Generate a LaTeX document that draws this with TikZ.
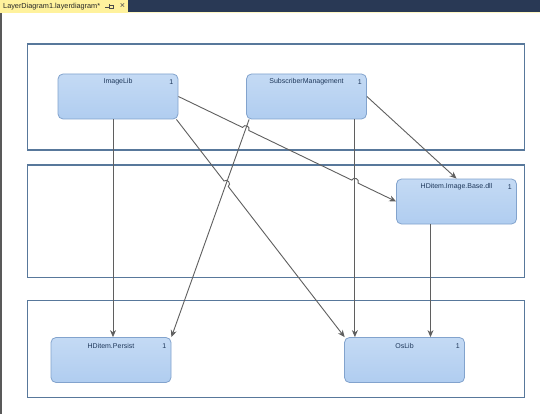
\documentclass[tikz,border=0pt]{standalone}
\usepackage{fontspec}
\setmainfont{Liberation Sans}
\usetikzlibrary{calc,arrows.meta}
\definecolor{band}{RGB}{41,57,85}
\definecolor{tabyel}{RGB}{255,242,157}
\definecolor{layerc}{RGB}{88,120,155}
\definecolor{compbd}{RGB}{130,163,205}
\definecolor{comptop}{RGB}{196,218,244}
\definecolor{compbot}{RGB}{176,205,240}
\definecolor{lbltxt}{RGB}{30,55,90}
\definecolor{conncol}{RGB}{95,95,95}
\tikzset{
  layerbox/.style={draw=layerc,line width=1.3pt,fill=white},
  comp/.style={draw=compbd,line width=0.8pt,rounded corners=5pt,top color=comptop,bottom color=compbot,minimum width=120pt,minimum height=45pt,inner sep=0pt},
  lbl/.style={font=\fontsize{7}{8}\selectfont,text=lbltxt,inner sep=0pt},
  conn/.style={draw=conncol,line width=0.9pt,-{Stealth[length=7pt,width=6pt]}},
  hop/.style={bend left=90,looseness=1.6}
}
\begin{document}
\begin{tikzpicture}[x=1pt,y=-1pt]
\useasboundingbox (0,0) rectangle (540,414);
\fill[white] (0,0) rectangle (540,414);
% window chrome
\fill[band] (0,0) rectangle (540,12);
\fill[tabyel!60] (0,12) rectangle (540,13.5);
\fill[tabyel] (0,0) rectangle (128,13.5);
\node[anchor=west,inner sep=0pt,font=\fontsize{7.3}{8}\selectfont,text=black!85] (tab) at (3,6.8) {LayerDiagram1.layerdiagram*};
\draw[black!70,line width=0.6pt] (105,7) -- (109,7) (109,4.5) -- (109,9.5) (109,5.5) rectangle (113,8.5);
\node[inner sep=0pt,font=\fontsize{9}{9}\selectfont,text=black!70] (close) at (122.5,6.5) {×};
\fill[black!65] (0,13.5) rectangle (2,414);
% layers
\node[layerbox,minimum width=497pt,minimum height=106pt,inner sep=0pt,anchor=north west] (L1) at (27,43.5) {};
\node[layerbox,minimum width=497pt,minimum height=112pt,inner sep=0pt,anchor=north west] (L2) at (27,164.5) {};
\node[layerbox,minimum width=497pt,minimum height=97pt,inner sep=0pt,anchor=north west] (L3) at (27,300) {};
% components
\node[comp] (img) at (118,96.5) {};
\node[comp] (sub) at (306.5,96.5) {};
\node[comp] (hdb) at (456.5,201.5) {};
\node[comp] (per) at (111,360) {};
\node[comp] (osl) at (404.5,360) {};
\foreach \n/\t in {img/ImageLib,sub/SubscriberManagement,hdb/HDitem.Image.Base.dll,per/HDitem.Persist,osl/OsLib}{
  \node[lbl] (\n-t) at ([yshift=-8.5pt]\n.north) {\t};
  \node[lbl] (\n-n) at ([xshift=-7pt,yshift=-8.5pt]\n.north east) {1};
}
% connector end points
\coordinate (l4s) at ([xshift=3pt]sub.south west);
\coordinate (l4e) at (per.north east);
\coordinate (l3s) at ([xshift=-2pt]img.south east);
\coordinate (l3e) at ([xshift=0.5pt]osl.north west);
\coordinate (l5s) at ([xshift=-12pt]sub.south east);
\coordinate (l5e) at (l5s |- osl.north);
\coordinate (l1s) at ([xshift=2pt]per.north |- img.south);
\coordinate (l1e) at ([xshift=2pt]per.north);
\coordinate (l7s) at ([xshift=-26pt]hdb.south);
\coordinate (l7e) at (l7s |- osl.north);
\coordinate (X1) at (intersection of img.east--hdb.west and l4s--l4e);
\coordinate (X2) at (intersection of img.east--hdb.west and l5s--l5e);
\coordinate (X3) at (intersection of l3s--l3e and l4s--l4e);
% connectors
\draw[conn] (l1s) -- (l1e);
\draw[conn] (l4s) -- (l4e);
\draw[conn] (l5s) -- (l5e);
\draw[conn] (l7s) -- (l7e);
\draw[conn] (sub.east) -- (hdb.north);
\draw[conn] (img.east) -- ($(X1)!3.5pt!(img.east)$) to[hop] ($(X1)!3.5pt!(hdb.west)$)
  -- ($(X2)!3.5pt!(img.east)$) to[hop] ($(X2)!3.5pt!(hdb.west)$) -- (hdb.west);
\draw[conn] (l3s) -- ($(X3)!3.5pt!(l3s)$) to[hop] ($(X3)!3.5pt!(l3e)$) -- (l3e);
\end{tikzpicture}
\end{document}
